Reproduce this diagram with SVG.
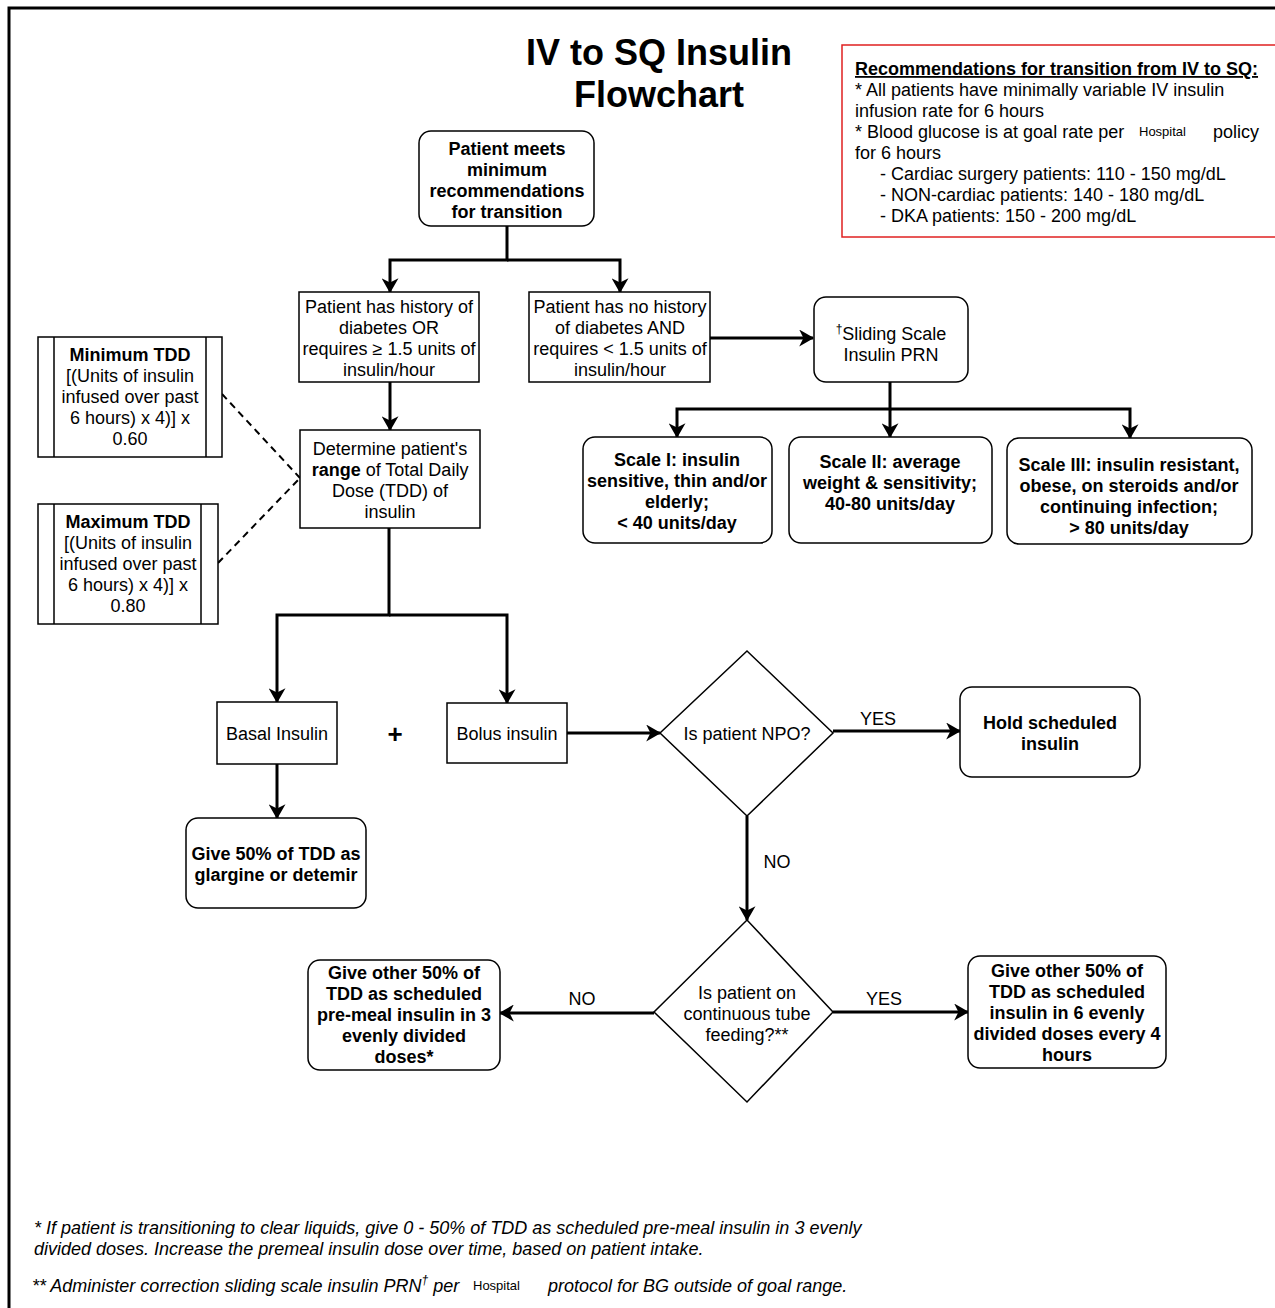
<svg xmlns="http://www.w3.org/2000/svg" width="1275" height="1308" viewBox="0 0 1275 1308">
<style>
text{font-family:"Liberation Sans",Arial,Helvetica,sans-serif;font-size:18px;fill:#000}
.c{text-anchor:middle}
.b{font-weight:bold}
.box{fill:#fff;stroke:#000;stroke-width:1.5}
.conn{fill:none;stroke:#000;stroke-width:3}
.dash{fill:none;stroke:#000;stroke-width:2;stroke-dasharray:7,5}
.it{font-style:italic}
.sm{font-size:13px}
</style>
<defs>
<marker id="arr" viewBox="0 0 14 16" refX="13" refY="8" markerWidth="15" markerHeight="17" markerUnits="userSpaceOnUse" orient="auto">
<path d="M0,0 L14,8 L0,16 L4,8 z" fill="#000"/>
</marker>
</defs>
<rect width="1275" height="1308" fill="#fff"/>
<path d="M9,1308 V8 H1275" fill="none" stroke="#000" stroke-width="3"/>

<g id="title">
<text class="c b" x="659" y="65" style="font-size:36px">IV to SQ Insulin</text>
<text class="c b" x="659" y="107" style="font-size:36px">Flowchart</text>
</g>

<g id="recommendations">
<rect x="842" y="45" width="440" height="192" fill="#fff" stroke="#e02020" stroke-width="1.5"/>
<text class="b" x="855" y="75" text-decoration="underline">Recommendations for transition from IV to SQ:</text>
<text x="855" y="96">* All patients have minimally variable IV insulin</text>
<text x="855" y="117">infusion rate for 6 hours</text>
<text x="855" y="138">* Blood glucose is at goal rate per</text>
<text class="sm" x="1139" y="136">Hospital</text>
<text x="1213" y="138">policy</text>
<text x="855" y="159">for 6 hours</text>
<text x="880" y="180">- Cardiac surgery patients: 110 - 150 mg/dL</text>
<text x="880" y="201">- NON-cardiac patients: 140 - 180 mg/dL</text>
<text x="880" y="222">- DKA patients: 150 - 200 mg/dL</text>
</g>

<g id="connectors">
<path class="conn" d="M507,226 V260 H390 V292" marker-end="url(#arr)"/>
<path class="conn" d="M507,260 H620 V292" marker-end="url(#arr)"/>
<path class="conn" d="M710,338 H813" marker-end="url(#arr)"/>
<path class="conn" d="M890,382 V409 H677 V437" marker-end="url(#arr)"/>
<path class="conn" d="M890,409 V437" marker-end="url(#arr)"/>
<path class="conn" d="M890,409 H1130 V438" marker-end="url(#arr)"/>
<path class="conn" d="M390,382 V430" marker-end="url(#arr)"/>
<path class="dash" d="M222,394 L300,478"/>
<path class="dash" d="M218,563 L300,478"/>
<path class="conn" d="M389,528 V615 H277 V702" marker-end="url(#arr)"/>
<path class="conn" d="M389,615 H507 V703" marker-end="url(#arr)"/>
<path class="conn" d="M277,764 V818" marker-end="url(#arr)"/>
<path class="conn" d="M567,733 H660" marker-end="url(#arr)"/>
<path class="conn" d="M833,731 H960" marker-end="url(#arr)"/>
<text x="878" y="725" class="c">YES</text>
<path class="conn" d="M747,816 V920" marker-end="url(#arr)"/>
<text x="777" y="868" class="c">NO</text>
<path class="conn" d="M833,1012 H968" marker-end="url(#arr)"/>
<text x="884" y="1005" class="c">YES</text>
<path class="conn" d="M654,1013 H500" marker-end="url(#arr)"/>
<text x="582" y="1005" class="c">NO</text>
</g>

<g id="start">
<rect class="box" x="419" y="131" width="175" height="95" rx="12"/>
<text class="c b" x="507" y="155">Patient meets</text>
<text class="c b" x="507" y="176">minimum</text>
<text class="c b" x="507" y="197">recommendations</text>
<text class="c b" x="507" y="218">for transition</text>
</g>

<g id="history">
<rect class="box" x="299" y="292" width="180" height="90"/>
<text class="c" x="389" y="313">Patient has history of</text>
<text class="c" x="389" y="334">diabetes OR</text>
<text class="c" x="389" y="355">requires ≥ 1.5 units of</text>
<text class="c" x="389" y="376">insulin/hour</text>
</g>

<g id="nohistory">
<rect class="box" x="529" y="292" width="181" height="90"/>
<text class="c" x="620" y="313">Patient has no history</text>
<text class="c" x="620" y="334">of diabetes AND</text>
<text class="c" x="620" y="355">requires &lt; 1.5 units of</text>
<text class="c" x="620" y="376">insulin/hour</text>
</g>

<g id="sliding">
<rect class="box" x="814" y="297" width="154" height="85" rx="12"/>
<text class="c" x="891" y="340"><tspan style="font-size:12px" dy="-7">†</tspan><tspan dy="7">Sliding Scale</tspan></text>
<text class="c" x="891" y="361">Insulin PRN</text>
</g>

<g id="scale1">
<rect class="box" x="583" y="437" width="189" height="106" rx="12"/>
<text class="c b" x="677" y="466">Scale I: insulin</text>
<text class="c b" x="677" y="487">sensitive, thin and/or</text>
<text class="c b" x="677" y="508">elderly;</text>
<text class="c b" x="677" y="529">&lt; 40 units/day</text>
</g>

<g id="scale2">
<rect class="box" x="789" y="437" width="203" height="106" rx="12"/>
<text class="c b" x="890" y="468">Scale II: average</text>
<text class="c b" x="890" y="489">weight &amp; sensitivity;</text>
<text class="c b" x="890" y="510">40-80 units/day</text>
</g>

<g id="scale3">
<rect class="box" x="1007" y="438" width="245" height="106" rx="12"/>
<text class="c b" x="1129" y="471">Scale III: insulin resistant,</text>
<text class="c b" x="1129" y="492">obese, on steroids and/or</text>
<text class="c b" x="1129" y="513">continuing infection;</text>
<text class="c b" x="1129" y="534">&gt; 80 units/day</text>
</g>

<g id="mintdd">
<rect class="box" x="38" y="337" width="184" height="120"/>
<path d="M54,337 V457 M206,337 V457" stroke="#000" stroke-width="1.5"/>
<text class="c b" x="130" y="361">Minimum TDD</text>
<text class="c" x="130" y="382">[(Units of insulin</text>
<text class="c" x="130" y="403">infused over past</text>
<text class="c" x="130" y="424">6 hours) x 4)] x</text>
<text class="c" x="130" y="445">0.60</text>
</g>

<g id="maxtdd">
<rect class="box" x="38" y="504" width="180" height="120"/>
<path d="M54,504 V624 M201,504 V624" stroke="#000" stroke-width="1.5"/>
<text class="c b" x="128" y="528">Maximum TDD</text>
<text class="c" x="128" y="549">[(Units of insulin</text>
<text class="c" x="128" y="570">infused over past</text>
<text class="c" x="128" y="591">6 hours) x 4)] x</text>
<text class="c" x="128" y="612">0.80</text>
</g>

<g id="determine">
<rect class="box" x="300" y="430" width="180" height="98"/>
<text class="c" x="390" y="455">Determine patient's</text>
<text class="c" x="390" y="476"><tspan class="b">range</tspan> of Total Daily</text>
<text class="c" x="390" y="497">Dose (TDD) of</text>
<text class="c" x="390" y="518">insulin</text>
</g>

<g id="basal">
<rect class="box" x="217" y="702" width="120" height="62"/>
<text class="c" x="277" y="740">Basal Insulin</text>
</g>

<g id="plus">
<text class="c b" x="395" y="743" style="font-size:26px">+</text>
</g>

<g id="bolus">
<rect class="box" x="447" y="703" width="120" height="60"/>
<text class="c" x="507" y="740">Bolus insulin</text>
</g>

<g id="give50">
<rect class="box" x="186" y="818" width="180" height="90" rx="12"/>
<text class="c b" x="276" y="860">Give 50% of TDD as</text>
<text class="c b" x="276" y="881">glargine or detemir</text>
</g>

<g id="npo">
<polygon class="box" points="747,651 833,733 747,816 660,733"/>
<text class="c" x="747" y="740">Is patient NPO?</text>
</g>

<g id="hold">
<rect class="box" x="960" y="687" width="180" height="90" rx="12"/>
<text class="c b" x="1050" y="729">Hold scheduled</text>
<text class="c b" x="1050" y="750">insulin</text>
</g>

<g id="tube">
<polygon class="box" points="747,920 833,1012 747,1102 654,1012"/>
<text class="c" x="747" y="999">Is patient on</text>
<text class="c" x="747" y="1020">continuous tube</text>
<text class="c" x="747" y="1041">feeding?**</text>
</g>

<g id="premeal">
<rect class="box" x="308" y="960" width="192" height="110" rx="12"/>
<text class="c b" x="404" y="979">Give other 50% of</text>
<text class="c b" x="404" y="1000">TDD as scheduled</text>
<text class="c b" x="404" y="1021">pre-meal insulin in 3</text>
<text class="c b" x="404" y="1042">evenly divided</text>
<text class="c b" x="404" y="1063">doses*</text>
</g>

<g id="six">
<rect class="box" x="968" y="956" width="198" height="112" rx="12"/>
<text class="c b" x="1067" y="977">Give other 50% of</text>
<text class="c b" x="1067" y="998">TDD as scheduled</text>
<text class="c b" x="1067" y="1019">insulin in 6 evenly</text>
<text class="c b" x="1067" y="1040">divided doses every 4</text>
<text class="c b" x="1067" y="1061">hours</text>
</g>

<g id="footnotes">
<text class="it" x="34" y="1234">* If patient is transitioning to clear liquids, give 0 - 50% of TDD as scheduled pre-meal insulin in 3 evenly</text>
<text class="it" x="34" y="1255">divided doses. Increase the premeal insulin dose over time, based on patient intake.</text>
<text class="it" x="32" y="1292">** Administer correction sliding scale insulin PRN<tspan style="font-size:12px" dy="-8">†</tspan><tspan dy="8"> per</tspan></text>
<text class="sm" x="473" y="1290">Hospital</text>
<text class="it" x="548" y="1292">protocol for BG outside of goal range.</text>
</g>
</svg>
